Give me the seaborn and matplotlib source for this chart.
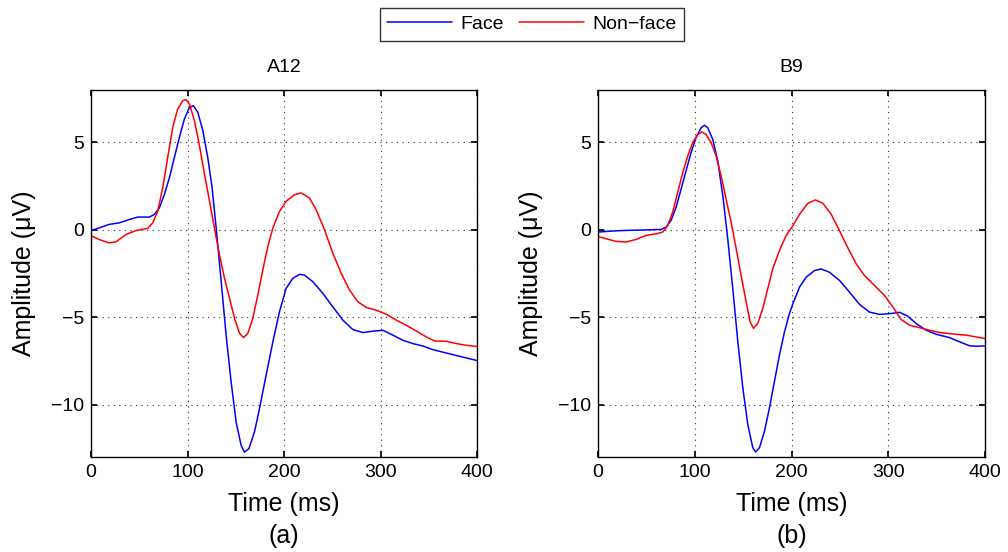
import numpy as np
import pandas as pd
import matplotlib
matplotlib.use("Agg")
import matplotlib.pyplot as plt
import seaborn as sns

# ---- data ----
a12_face_t = [0, 8.6, 19, 29.4, 39.8, 48.4, 60.5, 65.7, 70.9, 76.1, 81.3, 86.4, 91.6, 96.8, 102, 106.2,
              110.7, 115.9, 121, 125.5, 129.7, 134.9, 140, 145.2, 150.4, 155.6, 159, 163.6, 169.4, 174.6,
              181.5, 188.5, 195.4, 202.2, 209.1, 216, 221.2, 229.9, 240.3, 250.6, 261, 271.4, 281.7, 292.1,
              302.5, 312.9, 323.2, 333.6, 344, 354.4, 368.2, 382, 400]
a12_face_v = [-0.04, 0.11, 0.31, 0.40, 0.59, 0.73, 0.73, 0.88, 1.26, 2.03, 2.99, 4.14, 5.29, 6.34, 7.01, 7.1,
              6.72, 5.67, 4.14, 2.41, 0.11, -2.95, -6.02, -8.7, -11.0, -12.34, -12.72, -12.53, -11.57, -10.23,
              -8.31, -6.4, -4.67, -3.35, -2.78, -2.55, -2.59, -2.97, -3.64, -4.41, -5.17, -5.71, -5.88, -5.8,
              -5.75, -6.03, -6.32, -6.51, -6.65, -6.86, -7.05, -7.24, -7.48]

a12_non_t = [0, 8.6, 19, 25.9, 36.3, 46.7, 58.8, 64, 69.2, 74.3, 79.5, 84.7, 89.9, 95.1, 98.5, 102,
             107.2, 112.4, 117.6, 122.8, 127.9, 133.1, 138.3, 143.5, 148.7, 153.9, 158, 162.5, 167.7, 172.9,
             178.1, 183.3, 188.5, 195.3, 202.2, 210.9, 217.8, 226.4, 233.3, 242, 250.6, 259.3, 267.9, 276.6,
             285.2, 295.6, 306, 316.3, 326.7, 337.1, 347.4, 356.1, 368.2, 378.6, 389, 400]
a12_non_v = [-0.33, -0.56, -0.75, -0.69, -0.27, -0.04, 0.08, 0.4, 1.07, 2.41, 4.14, 5.86, 6.92, 7.39, 7.45, 7.2,
             6.25, 4.81, 3.18, 1.65, 0.11, -1.42, -2.76, -3.91, -5.06, -5.92, -6.17, -5.92, -5.06, -3.72,
             -2.28, -0.94, 0.11, 1.05, 1.63, 2.01, 2.11, 1.82, 1.15, 0.0, -1.34, -2.49, -3.45, -4.12,
             -4.44, -4.6, -4.83, -5.17, -5.46, -5.79, -6.13, -6.36, -6.38, -6.51, -6.61, -6.68]

b9_face_t = [0, 11.7, 25.5, 39.3, 53.1, 65.2, 70.3, 75.5, 80.7, 85.9, 91, 96.2, 101.4, 106.6, 110, 113.4,
             118.6, 123.8, 129, 134.1, 139.3, 144.5, 149.7, 154.8, 160, 162.8, 166.9, 172.1, 177.2, 182.4,
             187.6, 192.8, 197.9, 201.4, 208.3, 215.2, 223.8, 230.7, 239.3, 249.7, 260, 270.4, 280.7, 291.1,
             301.4, 311.7, 320.4, 329, 339.3, 349.7, 363.5, 373.8, 384.2, 391, 400]
b9_face_v = [-0.13, -0.08, -0.04, -0.02, 0.0, 0.02, 0.15, 0.53, 1.29, 2.33, 3.38, 4.42, 5.28, 5.84, 5.98, 5.84,
             5.18, 3.95, 1.95, -0.51, -3.36, -6.39, -9.05, -11.14, -12.47, -12.71, -12.47, -11.52, -10.19, -8.67,
             -7.15, -5.83, -4.78, -4.23, -3.28, -2.71, -2.33, -2.24, -2.43, -2.9, -3.57, -4.27, -4.71, -4.84,
             -4.8, -4.72, -4.95, -5.37, -5.75, -5.98, -6.17, -6.41, -6.64, -6.66, -6.64]

b9_non_t = [0, 8.3, 18.6, 29, 39.3, 49.7, 60, 66.9, 72.1, 77.2, 82.4, 87.6, 92.8, 97.9, 103.1, 107.6,
            111.7, 116.9, 122.1, 127.2, 132.4, 137.6, 142.8, 147.9, 153.1, 157.2, 160.7, 165.2, 170.3, 175.5,
            180.7, 187.6, 194.5, 201.4, 208.3, 216.9, 224.8, 232.4, 241, 249.7, 258.3, 266.9, 275.5, 285.9,
            296.2, 304.8, 313.5, 322.1, 332.4, 342.8, 353.1, 366.9, 380.7, 391, 400]
b9_non_v = [-0.38, -0.51, -0.66, -0.70, -0.55, -0.32, -0.23, -0.13, 0.25, 1.01, 2.14, 3.28, 4.23, 4.99, 5.46, 5.6,
            5.46, 4.99, 4.23, 3.09, 1.76, 0.44, -1.08, -2.6, -4.12, -5.26, -5.64, -5.35, -4.5, -3.36,
            -2.22, -1.18, -0.32, 0.23, 0.89, 1.52, 1.71, 1.52, 0.89, -0.06, -1.04, -1.95, -2.62, -3.19,
            -3.76, -4.42, -5.14, -5.46, -5.6, -5.75, -5.88, -5.96, -6.03, -6.13, -6.22]

series_names = ["Face", "Non\u2212face"]
panel_titles = ["A12", "B9"]
panel_tags = ["(a)", "(b)"]
x_ticks = [0, 100, 200, 300, 400]
y_ticks = [-10, -5, 0, 5]

sns.set_theme(style="white")
plt.rcParams['font.family'] = ['Liberation Sans', 'DejaVu Sans']
plt.rcParams.update({"text.color": "black", "axes.labelcolor": "black",
                     "xtick.color": "black", "ytick.color": "black"})

W, H = 1008, 552
fig = plt.figure(figsize=(W / 100, H / 100), dpi=100)
ax_boxes = [(91, 477), (598, 985)]
top_px, bot_px = 90, 457
axes = [fig.add_axes([l / W, 1 - bot_px / H, (r - l) / W, (bot_px - top_px) / H]) for l, r in ax_boxes]

panels = [(a12_face_t, a12_face_v, a12_non_t, a12_non_v),
          (b9_face_t, b9_face_v, b9_non_t, b9_non_v)]
palette = {series_names[0]: "#0000ff", series_names[1]: "#ff0000"}

for i, (ax, (ft, fv, nt, nv)) in enumerate(zip(axes, panels)):
    df = pd.concat([
        pd.DataFrame({"t": ft, "v": fv, "cond": series_names[0]}),
        pd.DataFrame({"t": nt, "v": nv, "cond": series_names[1]}),
    ])
    sns.lineplot(data=df, x="t", y="v", hue="cond", palette=palette, ax=ax,
                 linewidth=1.1, sort=True, estimator=None, legend=(i == 0))
    ax.set_xlim(0, 400)
    ax.set_ylim(-13, 8)
    ax.set_xticks(x_ticks)
    ax.set_yticks(y_ticks)
    ax.set_xticklabels([str(t) for t in x_ticks])
    ax.set_yticklabels([str(t).replace('-', '\u2212') for t in y_ticks])
    ax.grid(True, color="#333333", linestyle=(0, (1, 4)), linewidth=0.8)
    ax.tick_params(direction="in", length=4, labelsize=14, colors="black", labelcolor="black", pad=5,
                   top=True, right=True, bottom=True, left=True)
    for s in ax.spines.values():
        s.set_color("black")
        s.set_linewidth(1.0)
    ax.text(0.5, 1 + (top_px - 67.5) / (bot_px - top_px), panel_titles[i],
            transform=ax.transAxes, ha="center", va="center", fontsize=14, color="black")
    ax.set_xlabel("Time (ms)", fontsize=18, color="black")
    ax.set_ylabel("Amplitude (\u03bcV)", fontsize=18, color="black")
    ax.xaxis.set_label_coords(0.5, -(504 - bot_px) / (bot_px - top_px))
    ax.xaxis.label.set_va("center")
    l, r = ax_boxes[i]
    ax.yaxis.set_label_coords(-(l - (24 + (l - 91))) / (r - l), 0.5)
    ax.yaxis.label.set_va("center")
    fig.text((l + r) / 2 / W, 1 - 536 / H, panel_tags[i], ha="center", va="center",
             fontsize=18, color="black")

h, lbl = axes[0].get_legend_handles_labels()
axes[0].get_legend().remove()
leg = fig.legend(h, lbl, loc="center", bbox_to_anchor=(532 / W, 1 - 24.5 / H), ncol=2,
                 fontsize=14, frameon=True, fancybox=False, edgecolor="black",
                 handlelength=3.3, columnspacing=0.8, borderpad=0.4, handletextpad=0.45,
                 borderaxespad=0, labelcolor="black")
leg.get_frame().set_linewidth(1.0)

fig.savefig("out.png", dpi=100)
